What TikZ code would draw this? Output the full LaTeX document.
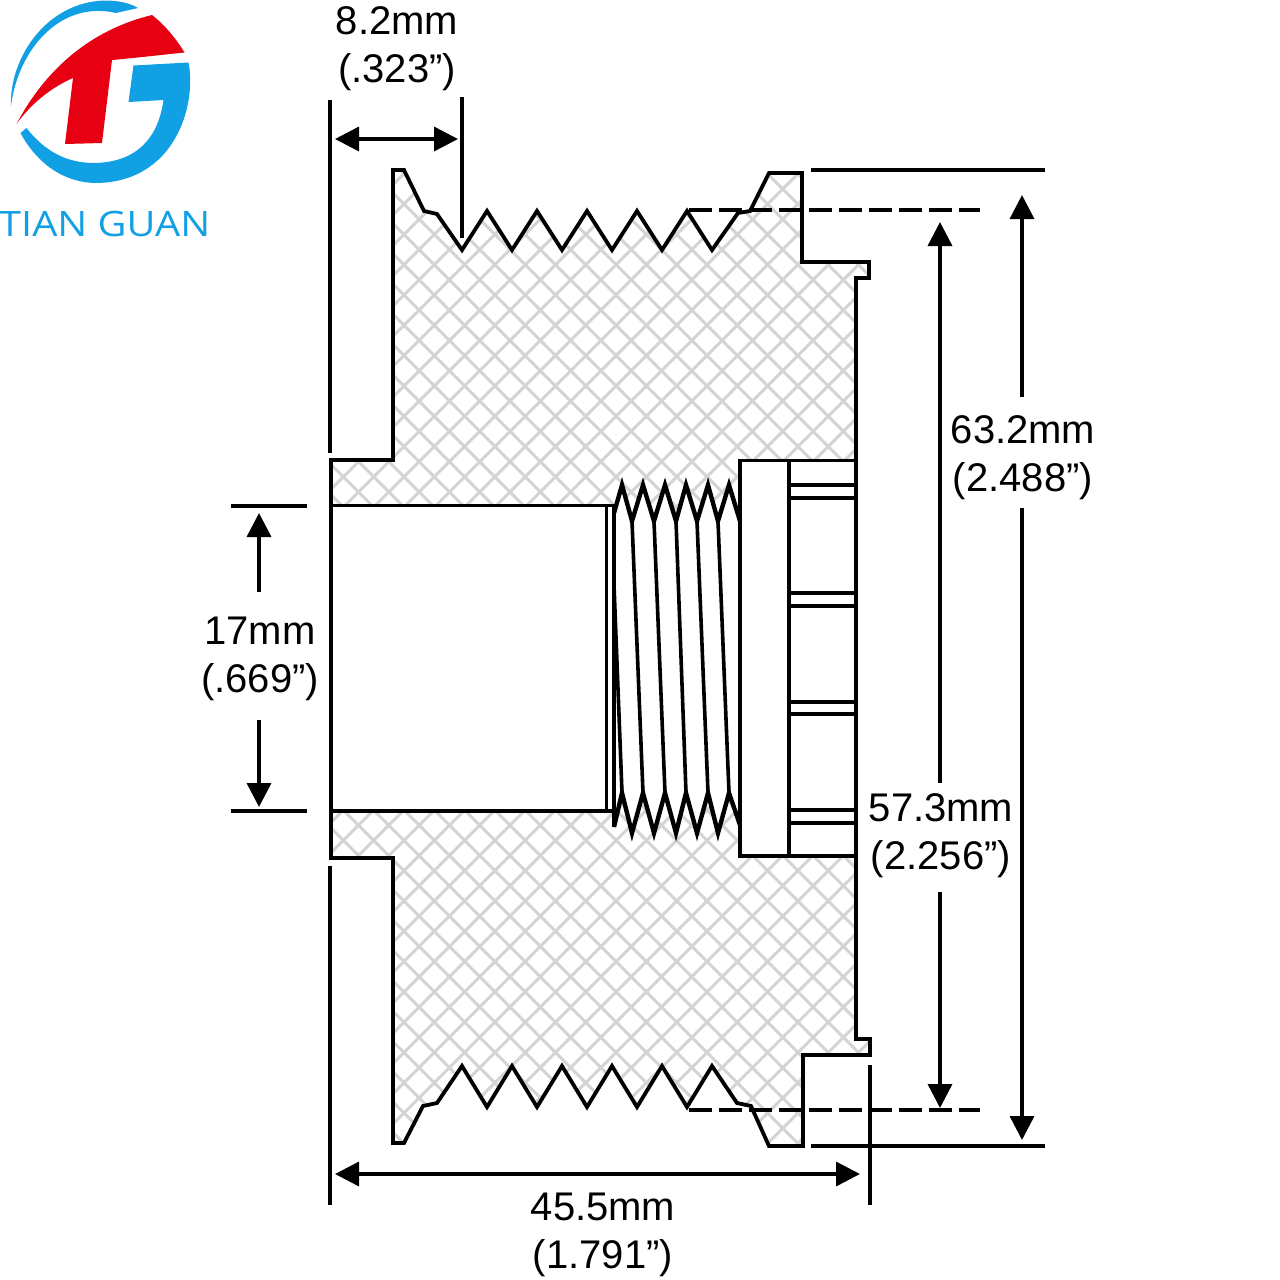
\documentclass[tikz,border=0pt]{standalone}
\usepackage{fontspec}
\setmainfont{Liberation Sans}
\newfontfamily\logofont{Open Sans}
\usetikzlibrary{arrows.meta}
\definecolor{logoblue}{HTML}{12A0E4}
\definecolor{logored}{HTML}{E60012}
\definecolor{hatchgray}{HTML}{D4D4D4}
\tikzset{
  outline/.style={draw=black,line width=3.8pt,line join=miter},
  hatchline/.style={draw=hatchgray,line width=3pt},
  ext/.style={draw=black,line width=3.4pt},
  dashline/.style={draw=black,line width=3.4pt,dash pattern=on 23pt off 7pt},
  dim/.style={draw=black,line width=3.4pt,-{Triangle[length=24pt,width=24pt]}},
  dimboth/.style={draw=black,line width=3.4pt,{Triangle[length=24pt,width=24pt]}-{Triangle[length=24pt,width=24pt]}},
  dimlabel/.style={font=\fontsize{40}{48}\selectfont,align=center,inner sep=0pt},
  thread/.style={draw=black,line width=4.4pt,line join=miter,miter limit=6},
  threadline/.style={draw=black,line width=3.6pt},
}
\begin{document}
\begin{tikzpicture}[x=1pt,y=-1pt]
\useasboundingbox (0,0) rectangle (1280,1280);
\fill[white] (0,0) rectangle (1280,1280);
% logo
\fill[logoblue] (11,106) .. controls (9,60) and (45,2) .. (105,0.5)
  .. controls (118,0.5) and (130,3) .. (138,8) -- (116,13)
  .. controls (60,0) and (18,50) .. (11,106) -- cycle;
\fill[logoblue] (20.5,133) -- (26.5,128)
  .. controls (50,158) and (75,163) .. (95,163)
  .. controls (135,162) and (158,140) .. (163.5,100)
  -- (128.5,102) -- (133.5,65.5) -- (188.5,62.5)
  .. controls (197,105) and (175,183) .. (95,183)
  .. controls (60,182) and (35,160) .. (20.5,133) -- cycle;
\fill[logored] (16.5,124) .. controls (45,70) and (90,30) .. (152,15)
  .. controls (165,25) and (177,40) .. (184.5,52.5)
  .. controls (160,55) and (135,58) .. (112,60)
  -- (102,143) -- (65,144) -- (73,78)
  .. controls (50,88) and (30,105) .. (16.5,124) -- cycle;
\node[anchor=base west,inner sep=0pt,text=logoblue,xscale=1.135,font=\logofont\fontsize{35}{40}\selectfont] (logotext) at (-1,236) {TIAN GUAN};
% hatching
\begin{scope}
\clip (393,460) -- (393,170) -- (404,170) -- (424,211) -- (437,214) -- (462,250)
  -- (487,211) -- (512,250) -- (537,211) -- (562,250) -- (587,211) -- (612,250)
  -- (637,211) -- (662,250) -- (687,211) -- (712,250) -- (738,213) -- (750,211)
  -- (769,173) -- (802,173) -- (802,262) -- (869,262) -- (869,278) -- (856,278)
  -- (856,460) -- (740,460) -- (740,525) -- (729,485) -- (718,521) -- (708,485)
  -- (697,521) -- (686,485) -- (676,521) -- (665,485) -- (654,521) -- (643,485)
  -- (632,521) -- (622,485) -- (615,510) -- (614,505) -- (331,505) -- (331,460) -- cycle
  (331,811) -- (614,811) -- (615,826) -- (622,793) -- (632,833) -- (643,793)
  -- (654,833) -- (665,793) -- (676,833) -- (686,793) -- (697,833) -- (708,793)
  -- (718,833) -- (729,793) -- (740,825) -- (740,856) -- (856,856) -- (856,1039)
  -- (870,1039) -- (870,1055) -- (803,1055) -- (803,1146) -- (769,1146) -- (751,1106)
  -- (737,1103) -- (712,1066) -- (687,1107) -- (662,1066) -- (637,1107) -- (612,1066)
  -- (587,1107) -- (562,1066) -- (537,1107) -- (512,1066) -- (487,1107) -- (462,1066)
  -- (437,1103) -- (423,1106) -- (404,1143) -- (393,1143) -- (393,858) -- (331,858) -- cycle;
\foreach \k in {-5,...,70}{
  \draw[hatchline] ({729.3+30.3*(\k-24)},0) -- ++(-1400,1400);
}
\foreach \k in {-60,...,40}{
  \draw[hatchline] ({139.3+30.3*\k},0) -- ++(1400,1400);
}
\end{scope}
% pulley outlines
\draw[outline] (331,505) -- (331,460) -- (393,460) -- (393,170) -- (404,170) -- (424,211) -- (437,214) -- (462,250)
  -- (487,211) -- (512,250) -- (537,211) -- (562,250) -- (587,211) -- (612,250)
  -- (637,211) -- (662,250) -- (687,211) -- (712,250) -- (738,213) -- (750,211)
  -- (769,173) -- (802,173) -- (802,262) -- (869,262) -- (869,278) -- (856,278) -- (856,460);
\draw[outline] (331,811) -- (331,858) -- (393,858) -- (393,1143) -- (404,1143) -- (423,1106) -- (437,1103) -- (462,1066)
  -- (487,1107) -- (512,1066) -- (537,1107) -- (562,1066) -- (587,1107) -- (612,1066)
  -- (637,1107) -- (662,1066) -- (687,1107) -- (712,1066) -- (737,1103) -- (751,1106)
  -- (769,1146) -- (803,1146) -- (803,1055) -- (870,1055) -- (870,1039) -- (856,1039) -- (856,856);
% bore
\draw[outline] (614,505.5) -- (331,505.5) -- (331,811) -- (614,811);
\draw[line width=3pt] (606,505.5) -- (606,811);
\draw[outline] (614,505.5) -- (614,827);
% thread
\draw[thread] (614,513) -- (622,485) -- (632,521) -- (643,485) -- (654,521) -- (665,485) -- (676,521) -- (686,485) -- (697,521) -- (708,485) -- (718,521) -- (729,485) -- (740,521);
\draw[thread] (614,827) -- (622,793) -- (632,833) -- (643,793) -- (654,833) -- (665,793) -- (676,833) -- (686,793) -- (697,833) -- (708,793) -- (718,833) -- (729,793) -- (740,825);
\foreach \a/\b in {632/643,654/665,676/686,697/708,718/729}{
  \draw[threadline] (\a,521) -- (\b,793);
}
\draw[threadline] (614,585) -- (622,793);
% hub
\draw[outline] (740,460.5) rectangle (856,856);
\draw[outline] (789,460.5) -- (789,856);
\foreach \y in {485,498,593,606,702,714,810,823}{
  \draw[line width=3.4pt] (789,\y) -- (856,\y);
}
% dashed lines
\coordinate (dashTopA) at (689,210);
\coordinate (dashTopB) at (980,210);
\coordinate (dashBotA) at (689,1110);
\coordinate (dashBotB) at (980,1110);
\draw[dashline] (dashTopA) -- (dashTopB);
\draw[dashline] (dashBotA) -- (dashBotB);
% extension lines
\coordinate (extTopA) at (811,170);
\coordinate (extTopB) at (1045,170);
\coordinate (extBotA) at (811,1146);
\coordinate (extBotB) at (1045,1146);
\draw[ext] (extTopA) -- (extTopB);
\draw[ext] (extBotA) -- (extBotB);
\coordinate (extL1) at (330,100);
\coordinate (extL2) at (330,453);
\coordinate (extM1) at (462,97);
\coordinate (extM2) at (462,238);
\draw[ext] (extL1) -- (extL2);
\draw[ext] (extM1) -- (extM2);
\coordinate (extB1) at (330,866);
\coordinate (extB2) at (330,1205);
\coordinate (extB3) at (870,1065);
\coordinate (extB4) at (870,1205);
\draw[ext] (extB1) -- (extB2);
\draw[ext] (extB3) -- (extB4);
\coordinate (extI1) at (231,506);
\coordinate (extI2) at (307,506);
\coordinate (extI3) at (231,811);
\coordinate (extI4) at (307,811);
\draw[ext] (extI1) -- (extI2);
\draw[ext] (extI3) -- (extI4);
% dimension arrows
\coordinate (a82L) at (335,139);
\coordinate (a82R) at (458,139);
\draw[dimboth] (a82L) -- (a82R);
\coordinate (a455L) at (335,1174);
\coordinate (a455R) at (860,1174);
\draw[dimboth] (a455L) -- (a455R);
\coordinate (a17T) at (259,513);
\coordinate (a17Ta) at (259,592);
\coordinate (a17B) at (259,807);
\coordinate (a17Ba) at (259,720);
\draw[dim] (a17Ta) -- (a17T);
\draw[dim] (a17Ba) -- (a17B);
\coordinate (a63T) at (1022,195);
\coordinate (a63Ta) at (1022,397);
\coordinate (a63B) at (1022,1140);
\coordinate (a63Ba) at (1022,508);
\draw[dim] (a63Ta) -- (a63T);
\draw[dim] (a63Ba) -- (a63B);
\coordinate (a57T) at (940,222);
\coordinate (a57Ta) at (940,783);
\coordinate (a57B) at (940,1108);
\coordinate (a57Ba) at (940,892);
\draw[dim] (a57Ta) -- (a57T);
\draw[dim] (a57Ba) -- (a57B);
% labels
\node[dimlabel] (l82) at (397,49) {8.2mm\\(.323”)};
\node[dimlabel] (l17) at (260,659) {17mm\\(.669”)};
\node[dimlabel] (l63) at (1023,458) {63.2mm\\(2.488”)};
\node[dimlabel] (l57) at (941,836) {57.3mm\\(2.256”)};
\node[dimlabel] (l455) at (603,1235) {45.5mm\\(1.791”)};
\end{tikzpicture}
\end{document}
